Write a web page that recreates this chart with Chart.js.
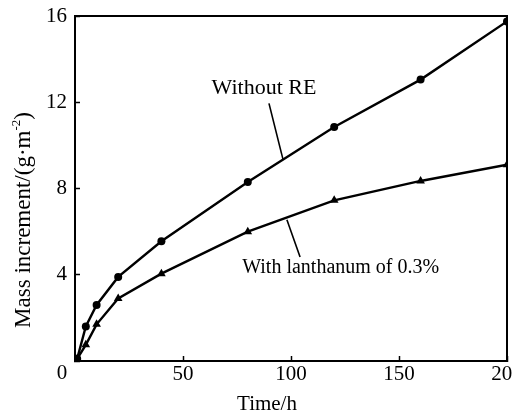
<!DOCTYPE html>
<html><head><meta charset="utf-8">
<script src="https://cdn.jsdelivr.net/npm/chart.js@4"></script>
<style>html,body{margin:0;padding:0;background:#fff}#wrap{width:513px;height:414px;position:relative}</style>
</head><body><div id="wrap"><canvas id="c" width="513" height="414"></canvas></div>
<script>
// ---- data ----
const timeH     = [1, 5, 10, 20, 40, 80, 120, 160, 200];
const withoutRE = [0.1, 1.6, 2.6, 3.9, 5.55, 8.3, 10.85, 13.05, 15.75];
const withLa    = [0.1, 0.75, 1.7, 2.9, 4.05, 6.0, 7.45, 8.35, 9.1];
const xTickValues = [0, 50, 100, 150, 200];
const yTickValues = [0, 4, 8, 12, 16];
const seriesNames = ['Without RE', 'With lanthanum of 0.3%'];
const xTitle = 'Time/h';
const yTitleMain = 'Mass increment/(g\u00B7m';
const yTitleSup = '-2';
const yTitleEnd = ')';

const FONT = '"Liberation Serif", "Times New Roman", serif';

const toXY = (xs, ys) => xs.map((x, i) => ({x, y: ys[i]}));

// annotation anchors in data units: [textX, textY, lineFromX, lineFromY, lineToX, lineToY]
const annoWithout = [87.5, 12.66, 89.8, 11.95, 96.3, 9.35];
const annoLa      = [123, 4.31, 104.2, 4.82, 98.1, 6.55];

const framePlugin = {
  id: 'framePlugin',
  afterDraw(chart) {
    const {ctx, chartArea: a, scales: {x, y}} = chart;
    ctx.save();
    ctx.strokeStyle = '#000';
    ctx.lineWidth = 2;
    ctx.strokeRect(a.left, a.top, a.right - a.left, a.bottom - a.top);

    ctx.fillStyle = '#000';
    ctx.font = '21px ' + FONT;
    ctx.textAlign = 'center';
    ctx.textBaseline = 'middle';
    // shared origin label
    ctx.fillText(String(xTickValues[0]), x.getPixelForValue(0) - 13, y.getPixelForValue(0) + 12);
    // x title
    ctx.fillText(xTitle, 267, 404);

    // annotations
    const drawAnno = (p, text, size) => {
      ctx.font = size + 'px ' + FONT;
      ctx.fillText(text, x.getPixelForValue(p[0]), y.getPixelForValue(p[1]));
      ctx.beginPath();
      ctx.lineWidth = 1.6;
      ctx.moveTo(x.getPixelForValue(p[2]), y.getPixelForValue(p[3]));
      ctx.lineTo(x.getPixelForValue(p[4]), y.getPixelForValue(p[5]));
      ctx.stroke();
    };
    drawAnno(annoWithout, seriesNames[0], 22);
    drawAnno(annoLa, seriesNames[1], 20);

    // y title (rotated, with superscript)
    ctx.save();
    ctx.translate(30, 220);
    ctx.rotate(-Math.PI / 2);
    ctx.textAlign = 'left';
    ctx.textBaseline = 'alphabetic';
    const mainFont = '23px ' + FONT, supFont = '13px ' + FONT;
    ctx.font = mainFont; const w1 = ctx.measureText(yTitleMain).width;
    const w3 = ctx.measureText(yTitleEnd).width;
    ctx.font = supFont; const w2 = ctx.measureText(yTitleSup).width;
    let sx = -(w1 + w2 + w3) / 2;
    ctx.font = mainFont; ctx.fillText(yTitleMain, sx, 0); sx += w1;
    ctx.font = supFont; ctx.fillText(yTitleSup, sx, -10); sx += w2;
    ctx.font = mainFont; ctx.fillText(yTitleEnd, sx, 0);
    ctx.restore();

    ctx.restore();
  }
};

new Chart(document.getElementById('c'), {
  type: 'line',
  data: {
    datasets: [
      {
        label: seriesNames[0],
        data: toXY(timeH, withoutRE),
        borderColor: '#000', backgroundColor: '#000',
        borderWidth: 2.4, pointStyle: 'circle', pointRadius: 4,
        pointBorderWidth: 0, tension: 0
      },
      {
        label: seriesNames[1],
        data: toXY(timeH, withLa),
        borderColor: '#000', backgroundColor: '#000',
        borderWidth: 2.4, pointStyle: 'triangle', pointRadius: 5,
        pointBorderWidth: 0, tension: 0
      }
    ]
  },
  options: {
    responsive: false,
    animation: false,
    devicePixelRatio: 1,
    layout: {padding: {left: 0, top: 16, right: 6, bottom: 0}},
    plugins: {legend: {display: false}, tooltip: {enabled: false}, title: {display: false}},
    scales: {
      x: {
        type: 'linear', min: 0, max: 200,
        afterBuildTicks: s => { s.ticks = xTickValues.map(v => ({value: v})); },
        afterFit: s => { s.height = 53; s.paddingLeft = 0; s.paddingRight = 0; },
        grid: {display: true, drawOnChartArea: false, drawTicks: true, tickLength: -5, tickWidth: 1.5, tickColor: '#000'},
        border: {display: true, color: '#000', width: 2},
        ticks: {
          color: '#000', font: {family: FONT, size: 21}, padding: 6, maxRotation: 0,
          callback: v => (v === 0 ? '' : String(v))
        }
      },
      y: {
        type: 'linear', min: 0, max: 16,
        afterBuildTicks: s => { s.ticks = yTickValues.map(v => ({value: v})); },
        afterFit: s => { s.width = 75; s.paddingTop = 0; s.paddingBottom = 0; },
        grid: {display: true, drawOnChartArea: false, drawTicks: true, tickLength: -5, tickWidth: 1.5, tickColor: '#000'},
        border: {display: true, color: '#000', width: 2},
        ticks: {
          color: '#000', font: {family: FONT, size: 21}, padding: 13,
          callback: v => (v === 0 ? '' : String(v))
        }
      }
    }
  },
  plugins: [framePlugin]
});
</script>
</body></html>
